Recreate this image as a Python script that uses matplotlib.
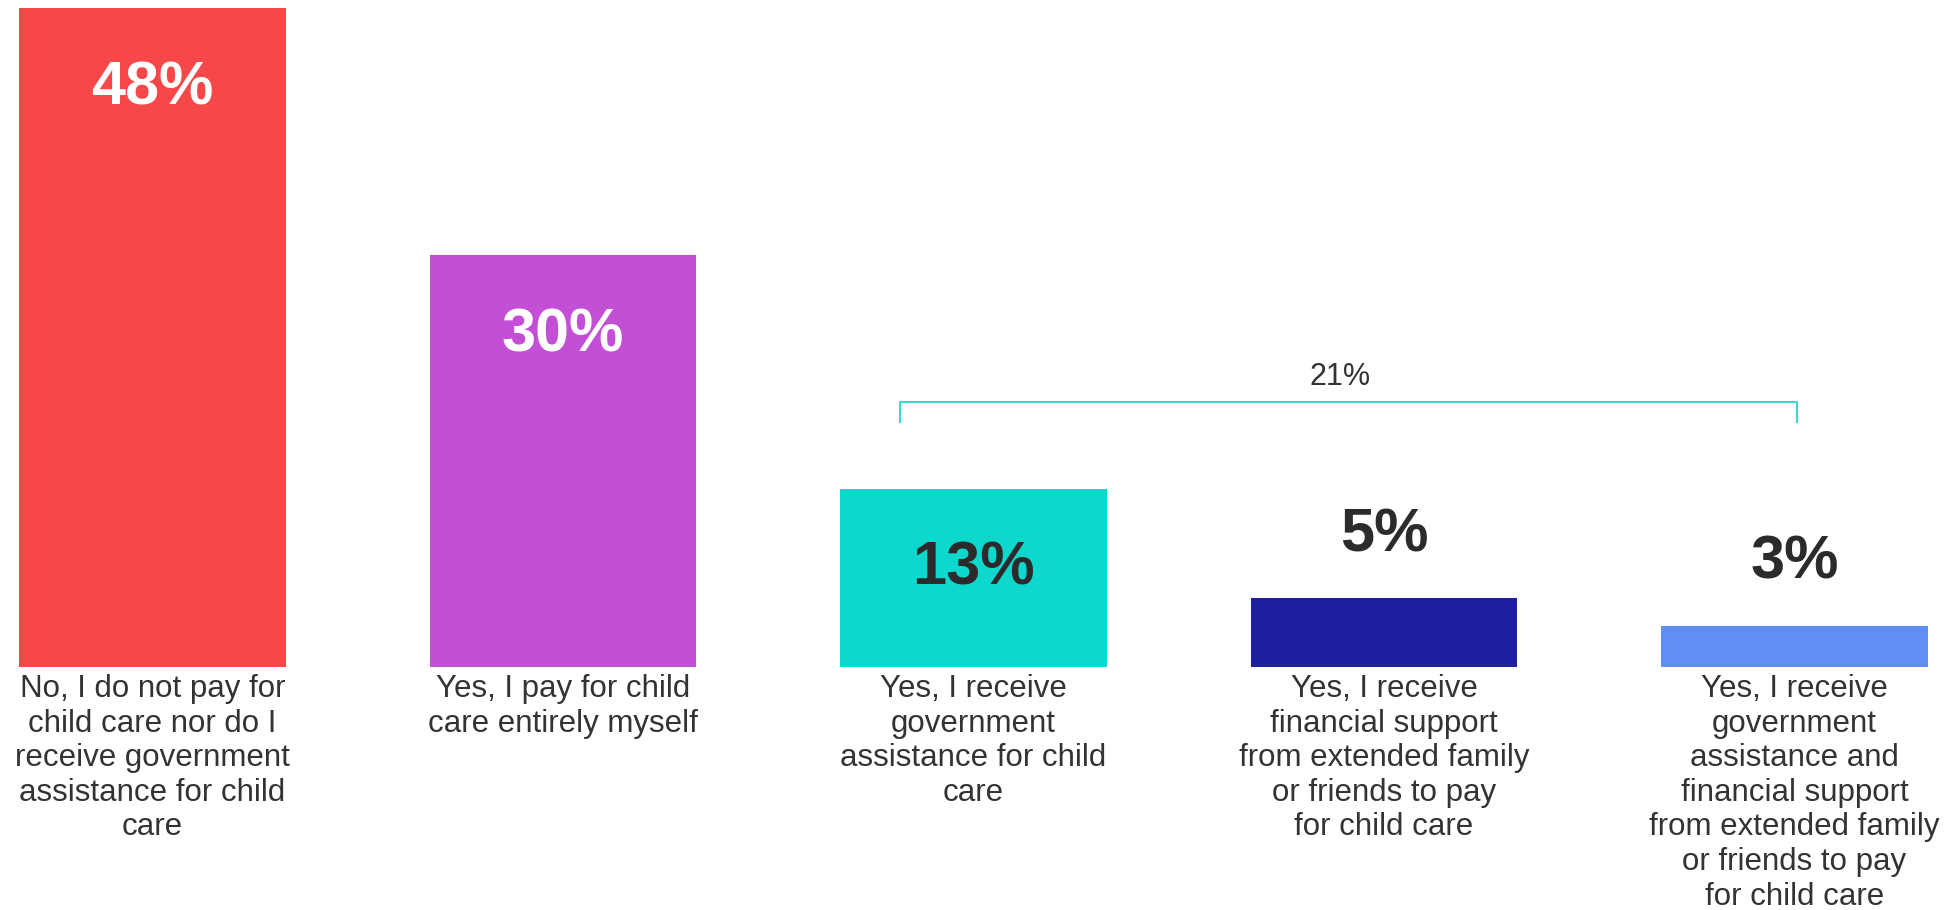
import matplotlib
matplotlib.use('Agg')
import matplotlib.pyplot as plt
import numpy as np

# Chart data
categories = [
    "No, I do not pay for\nchild care nor do I\nreceive government\nassistance for child\ncare",
    "Yes, I pay for child\ncare entirely myself",
    "Yes, I receive\ngovernment\nassistance for child\ncare",
    "Yes, I receive\nfinancial support\nfrom extended family\nor friends to pay\nfor child care",
    "Yes, I receive\ngovernment\nassistance and\nfinancial support\nfrom extended family\nor friends to pay\nfor child care",
]
values = [48, 30, 13, 5, 3]
colors = ['#F64848', '#C44FD7', '#0ED8CD', '#1F1FA3', '#5F8FF4']
inside_label = [True, True, True, False, False]
label_colors = ['white', 'white', '#2B2B2B', '#2B2B2B', '#2B2B2B']
group_total = "21%"

plt.rcParams['font.family'] = ['Liberation Sans', 'DejaVu Sans']

fig = plt.figure(figsize=(19.59, 9.10), dpi=100)
ax = fig.add_axes([0, 243 / 910, 1, 667 / 910])

x = np.arange(len(values))
ax.bar(x, values, width=0.65, color=colors)
ax.set_xlim(-0.3715, 4.4007)
ax.set_ylim(0, 48.58)
ax.axis('off')

# Value labels
for xi, v, inside, c in zip(x, values, inside_label, label_colors):
    offset = -58 if inside else 45
    ax.annotate(f"{v}%", (xi, v), xytext=(0, offset), textcoords='offset points',
                ha='center', va='center', fontsize=44, fontweight='bold', color=c)

# Category labels under bars
for xi, cat in zip(x, categories):
    ax.annotate(cat, (xi, 0), xytext=(0, -5), textcoords='offset points',
                ha='center', va='top', fontsize=22.5, color='#333333',
                linespacing=1.2, annotation_clip=False)

# Bracket over the "Yes, I receive" group
bx0, bx1, by_top, by_bot = 1.821, 4.006, 19.3, 17.84
ax.plot([bx0, bx0, bx1, bx1], [by_bot, by_top, by_top, by_bot],
        color='#3FD8D0', linewidth=1.5, solid_joinstyle='round')
ax.text((bx0 + bx1) / 2 - 0.02, by_top + 1.85, group_total, ha='center', va='center',
        fontsize=22, color='#333333',
        family=['Liberation Sans Narrow', 'Liberation Sans', 'DejaVu Sans'])

plt.savefig('out.png', dpi=100)
plt.close()
